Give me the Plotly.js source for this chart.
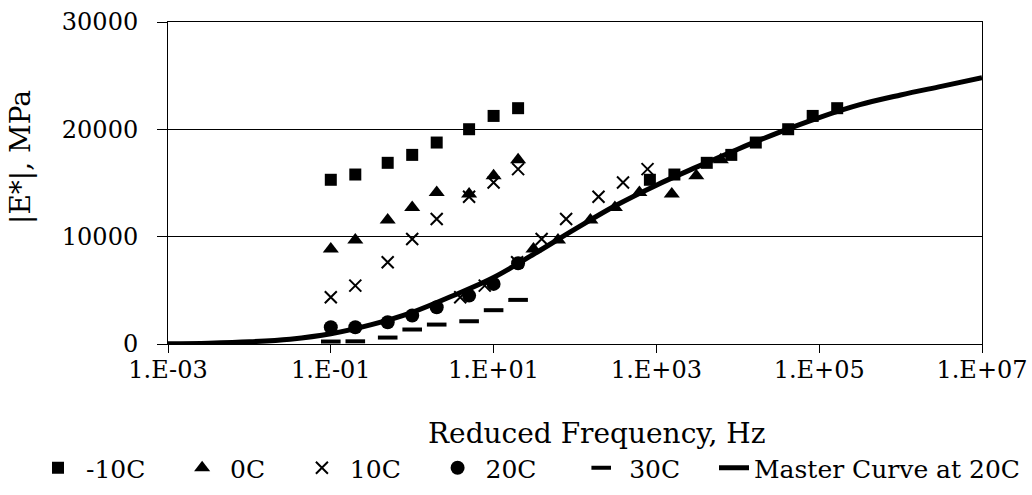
<!DOCTYPE html>
<html>
<head>
<meta charset="utf-8">
<script src="https://cdn.plot.ly/plotly-3.0.1.min.js"></script>
<style>html,body{margin:0;padding:0;background:#fff;}#chart{width:1032px;height:495px;}</style>
</head>
<body>
<div id="chart"></div>
<script>
// Test frequencies (Hz) at each temperature
const testFreq = [0.1, 0.2, 0.5, 1, 2, 5, 10, 20];
// Horizontal shift factors, log10(aT), relative to 20C
const logShiftM10 = 3.92;
const logShift0 = 2.49;
const logShift10 = 1.59;
// |E*| values (MPa)
const eM10 = [15300, 15790, 16880, 17620, 18770, 20010, 21250, 21970];
const e0   = [8850, 9690, 11550, 12720, 14120, 13970, 15670, 17160];
const e10  = [4350, 5440, 7610, 9780, 11640, 13720, 15050, 16290];
const e20  = [1560, 1560, 2030, 2650, 3420, 4510, 5600, 7520];
const e30  = [230, 250, 600, 1350, 1810, 2120, 3150, 4110];
// Master curve at 20C
const masterFreq = [1e-3, 3.16e-3, 1e-2, 3.16e-2, 1e-1, 3.16e-1, 1, 3.16, 10, 31.6, 100, 316, 1e3, 3.16e3, 1e4, 3.16e4, 1e5, 3.16e5, 1e6, 3.16e6, 1e7];
const masterE = [30, 80, 200, 450, 950, 1800, 2950, 4500, 6200, 8400, 10700, 12900, 14800, 16500, 18150, 19700, 21100, 22300, 23200, 24000, 24800];
// Series names and tick labels
const seriesNames = ["-10C", "0C", "10C", "20C", "30C", "Master Curve at 20C"];
const xTickVals = [1e-3, 1e-1, 1e1, 1e3, 1e5, 1e7];
const xTickText = ["1.E-03", "1.E-01", "1.E+01", "1.E+03", "1.E+05", "1.E+07"];
const yTickVals = [0, 10000, 20000, 30000];
const yTickText = ["0", "10000", "20000", "30000"];

const NB = "\u00A0";
function pad(name, lead, trail) { return NB.repeat(lead) + name + NB.repeat(trail); }
function withShift(freqs, logShift) {
  const f = Math.pow(10, logShift);
  return freqs.concat(freqs.map(v => v * f));
}
function twice(arr) { return arr.concat(arr); }

const FONT = "DejaVu Serif";
const traces = [
  {x: withShift(testFreq, logShiftM10), y: twice(eM10), name: pad(seriesNames[0], 1, 4), mode: "markers", type: "scatter",
   marker: {symbol: "square", size: 12, color: "#000"}},
  {x: withShift(testFreq, logShift0), y: twice(e0), name: pad(seriesNames[1], 1, 4), mode: "markers", type: "scatter",
   marker: {symbol: "triangle-up", size: 14, color: "#000"}},
  {x: withShift(testFreq, logShift10), y: twice(e10), name: pad(seriesNames[2], 1, 4), mode: "markers", type: "scatter",
   marker: {symbol: "x-thin-open", size: 12, color: "#000", line: {width: 2, color: "#000"}}},
  {x: testFreq, y: e20, name: pad(seriesNames[3], 1, 5), mode: "markers", type: "scatter",
   marker: {symbol: "circle", size: 14, color: "#000"}},
  {x: testFreq, y: e30, name: pad(seriesNames[4], 1, 0), mode: "markers", type: "scatter",
   marker: {symbol: "line-ew-open", size: 14, color: "#000", line: {width: 4, color: "#000"}}},
  {x: masterFreq, y: masterE, name: seriesNames[5], mode: "lines", type: "scatter", legend: "legend2",
   line: {color: "#000", width: 5, shape: "spline", smoothing: 1}}
];

const legendCommon = {orientation: "h", xref: "container", yref: "container", xanchor: "left",
  y: (495 - 468) / 495, yanchor: "middle", font: {family: FONT, size: 25, color: "#000"},
  bgcolor: "rgba(0,0,0,0)", borderwidth: 0, tracegroupgap: 0};

const layout = {
  width: 1032, height: 495,
  paper_bgcolor: "#fff", plot_bgcolor: "#fff",
  margin: {l: 168, r: 50, t: 22, b: 151, pad: 0},
  font: {family: FONT, color: "#000", size: 24},
  showlegend: true,
  legend: Object.assign({}, legendCommon, {x: 38 / 1032}),
  legend2: Object.assign({}, legendCommon, {x: 714 / 1032}),
  xaxis: {type: "log", range: [-3, 7], tickvals: xTickVals, ticktext: xTickText,
          showgrid: false, zeroline: false, showline: true, mirror: true, linecolor: "#000", linewidth: 1,
          ticks: "outside", ticklen: 8, tickcolor: "#000", ticklabelstandoff: -4,
          tickfont: {family: FONT, size: 24, color: "#000"}},
  yaxis: {range: [0, 30000], tickvals: yTickVals, ticktext: yTickText,
          showgrid: true, gridcolor: "#000", gridwidth: 1, zeroline: false,
          showline: true, mirror: true, linecolor: "#000", linewidth: 1,
          ticks: "outside", ticklen: 10, tickcolor: "#000", ticklabelstandoff: 14,
          tickfont: {family: FONT, size: 24, color: "#000"}},
  annotations: [
    {text: "Reduced Frequency, Hz", xref: "paper", yref: "paper", x: (596 - 168) / 814, y: -(433 - 344) / 322,
     xanchor: "center", yanchor: "middle", showarrow: false, font: {family: FONT, size: 28, color: "#000"}},
    {text: "|E*|, MPa", xref: "paper", yref: "paper", x: (20 - 168) / 814, y: (344 - 157) / 322,
     xanchor: "center", yanchor: "middle", textangle: -90, showarrow: false, font: {family: FONT, size: 28, color: "#000"}}
  ]
};

Plotly.newPlot("chart", traces, layout, {staticPlot: true, displayModeBar: false});
</script>
</body>
</html>
